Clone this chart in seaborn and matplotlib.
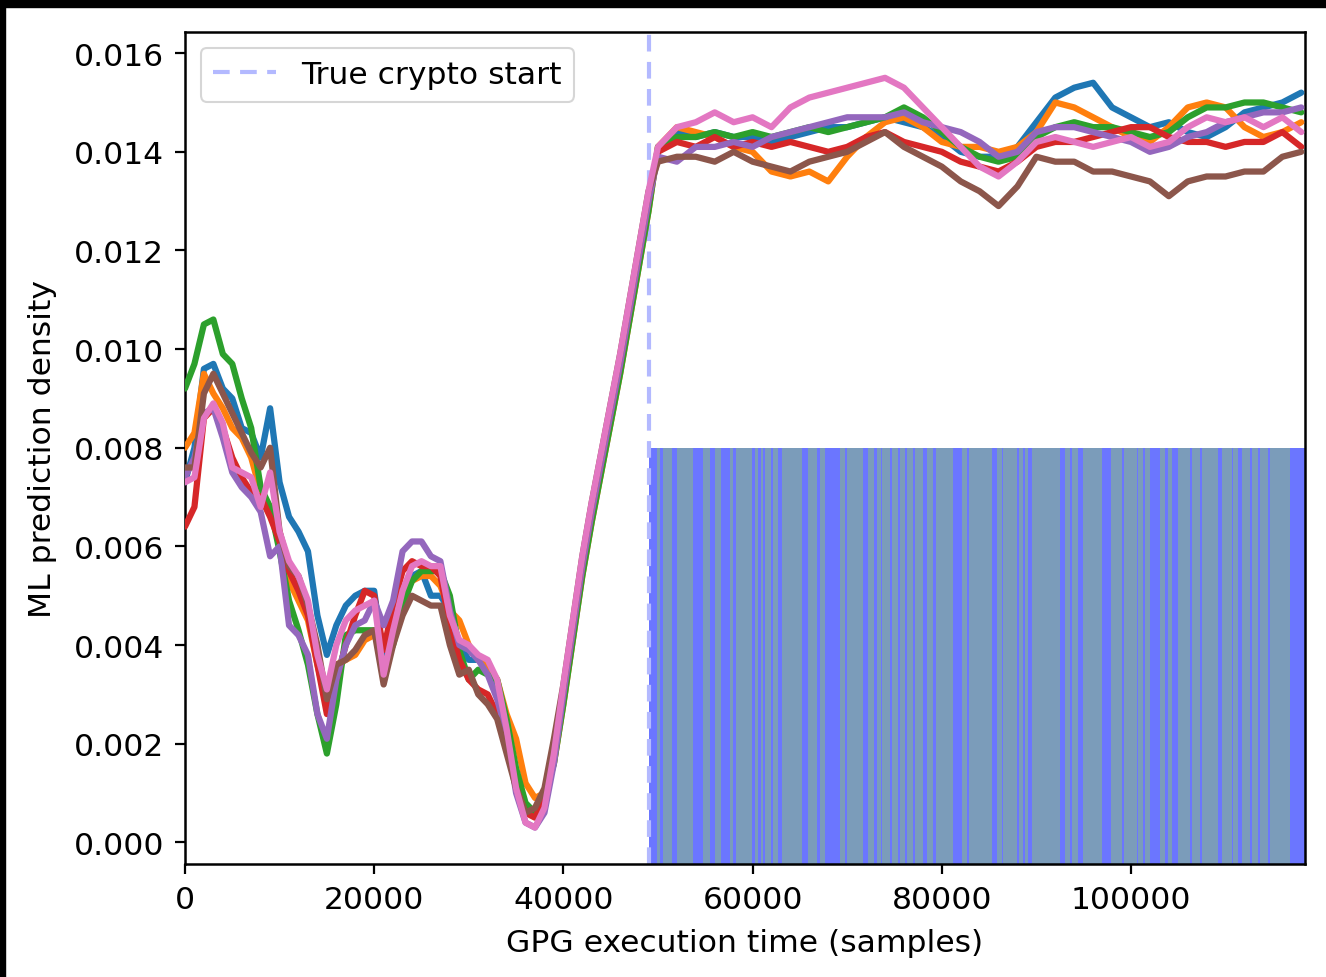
"""
ML prediction density along a GPG execution trace.
"""

import numpy as np
import pandas as pd
import matplotlib
matplotlib.use("Agg")
import matplotlib.pyplot as plt
from matplotlib.patches import Rectangle
import seaborn as sns


crypto_start = 49000
x_end = 118400
y_low = -0.00044
pred_height = 0.008

# sample positions of the density curves
samples = list(range(0, 50000, 1000)) + list(range(50000, 118001, 2000))

run_0 = [
    0.0073, 0.0080, 0.0096, 0.0097, 0.0092, 0.0090, 0.0084, 0.0083, 0.0078, 0.0088,
    0.0073, 0.0066, 0.0063, 0.0059, 0.0046, 0.0038, 0.0044, 0.0048, 0.0050, 0.0051,
    0.0051, 0.0037, 0.0043, 0.0049, 0.0054, 0.0055, 0.0050, 0.0050, 0.0047, 0.0040,
    0.0037, 0.0037, 0.0036, 0.0032, 0.0023, 0.0013, 0.0007, 0.0006, 0.0009, 0.0018,
    0.0030, 0.0043, 0.0056, 0.0067, 0.0077, 0.0087, 0.0097, 0.0108, 0.0119, 0.0130,
    0.0140, 0.0144, 0.0143, 0.0144, 0.0143, 0.0143, 0.0142, 0.0143, 0.0144, 0.0145,
    0.0145, 0.0146, 0.0147, 0.0146, 0.0145, 0.0143, 0.0140, 0.0139, 0.0139, 0.0141,
    0.0146, 0.0151, 0.0153, 0.0154, 0.0149, 0.0147, 0.0145, 0.0146, 0.0144, 0.0143,
    0.0145, 0.0148, 0.0149, 0.0150, 0.0152,
]
run_1 = [
    0.0080, 0.0083, 0.0095, 0.0091, 0.0088, 0.0084, 0.0082, 0.0078, 0.0071, 0.0068,
    0.0063, 0.0053, 0.0049, 0.0045, 0.0036, 0.0028, 0.0036, 0.0037, 0.0038, 0.0041,
    0.0042, 0.0041, 0.0043, 0.0050, 0.0053, 0.0054, 0.0054, 0.0052, 0.0047, 0.0045,
    0.0040, 0.0037, 0.0036, 0.0033, 0.0026, 0.0021, 0.0012, 0.0009, 0.0010, 0.0016,
    0.0028, 0.0041, 0.0054, 0.0065, 0.0075, 0.0085, 0.0095, 0.0106, 0.0117, 0.0128,
    0.0141, 0.0145, 0.0144, 0.0143, 0.0141, 0.0140, 0.0136, 0.0135, 0.0136, 0.0134,
    0.0139, 0.0143, 0.0146, 0.0147, 0.0145, 0.0142, 0.0141, 0.0141, 0.0140, 0.0141,
    0.0144, 0.0150, 0.0149, 0.0147, 0.0145, 0.0143, 0.0142, 0.0145, 0.0149, 0.0150,
    0.0149, 0.0145, 0.0143, 0.0144, 0.0146,
]
run_2 = [
    0.0092, 0.0097, 0.0105, 0.0106, 0.0099, 0.0097, 0.0090, 0.0084, 0.0072, 0.0068,
    0.0059, 0.0049, 0.0043, 0.0036, 0.0026, 0.0018, 0.0028, 0.0042, 0.0043, 0.0043,
    0.0043, 0.0036, 0.0040, 0.0048, 0.0053, 0.0055, 0.0055, 0.0055, 0.0050, 0.0039,
    0.0033, 0.0035, 0.0034, 0.0033, 0.0025, 0.0015, 0.0008, 0.0006, 0.0009, 0.0016,
    0.0028, 0.0041, 0.0054, 0.0065, 0.0075, 0.0085, 0.0095, 0.0106, 0.0117, 0.0128,
    0.0141, 0.0143, 0.0143, 0.0144, 0.0143, 0.0144, 0.0143, 0.0144, 0.0145, 0.0144,
    0.0145, 0.0146, 0.0147, 0.0149, 0.0147, 0.0144, 0.0141, 0.0139, 0.0138, 0.0139,
    0.0143, 0.0145, 0.0146, 0.0145, 0.0145, 0.0144, 0.0143, 0.0144, 0.0147, 0.0149,
    0.0149, 0.0150, 0.0150, 0.0149, 0.0148,
]
run_3 = [
    0.0064, 0.0068, 0.0086, 0.0088, 0.0084, 0.0078, 0.0074, 0.0071, 0.0070, 0.0066,
    0.0061, 0.0055, 0.0051, 0.0046, 0.0036, 0.0026, 0.0033, 0.0040, 0.0046, 0.0051,
    0.0050, 0.0039, 0.0048, 0.0055, 0.0057, 0.0056, 0.0056, 0.0054, 0.0044, 0.0037,
    0.0033, 0.0031, 0.0030, 0.0026, 0.0020, 0.0011, 0.0006, 0.0005, 0.0009, 0.0017,
    0.0030, 0.0043, 0.0056, 0.0067, 0.0077, 0.0087, 0.0097, 0.0108, 0.0119, 0.0130,
    0.0140, 0.0142, 0.0141, 0.0143, 0.0141, 0.0142, 0.0141, 0.0142, 0.0141, 0.0140,
    0.0141, 0.0143, 0.0144, 0.0142, 0.0141, 0.0140, 0.0138, 0.0137, 0.0136, 0.0138,
    0.0141, 0.0142, 0.0142, 0.0143, 0.0144, 0.0145, 0.0145, 0.0143, 0.0142, 0.0142,
    0.0141, 0.0142, 0.0142, 0.0144, 0.0141,
]
run_4 = [
    0.0074, 0.0078, 0.0087, 0.0088, 0.0082, 0.0075, 0.0072, 0.0070, 0.0067, 0.0058,
    0.0060, 0.0044, 0.0042, 0.0038, 0.0026, 0.0021, 0.0033, 0.0040, 0.0044, 0.0045,
    0.0049, 0.0044, 0.0049, 0.0059, 0.0061, 0.0061, 0.0058, 0.0057, 0.0047, 0.0040,
    0.0039, 0.0037, 0.0034, 0.0029, 0.0022, 0.0010, 0.0004, 0.0003, 0.0006, 0.0016,
    0.0030, 0.0043, 0.0056, 0.0067, 0.0077, 0.0087, 0.0097, 0.0108, 0.0119, 0.0130,
    0.0139, 0.0138, 0.0141, 0.0141, 0.0142, 0.0141, 0.0143, 0.0144, 0.0145, 0.0146,
    0.0147, 0.0147, 0.0147, 0.0148, 0.0146, 0.0145, 0.0144, 0.0142, 0.0139, 0.0140,
    0.0144, 0.0145, 0.0145, 0.0144, 0.0143, 0.0142, 0.0140, 0.0141, 0.0143, 0.0144,
    0.0146, 0.0147, 0.0148, 0.0148, 0.0149,
]
run_5 = [
    0.0076, 0.0076, 0.0091, 0.0095, 0.0091, 0.0087, 0.0083, 0.0079, 0.0076, 0.0080,
    0.0063, 0.0056, 0.0054, 0.0048, 0.0040, 0.0029, 0.0036, 0.0037, 0.0039, 0.0042,
    0.0043, 0.0032, 0.0040, 0.0046, 0.0050, 0.0049, 0.0048, 0.0048, 0.0040, 0.0034,
    0.0035, 0.0030, 0.0028, 0.0025, 0.0018, 0.0011, 0.0006, 0.0007, 0.0011, 0.0021,
    0.0032, 0.0045, 0.0058, 0.0069, 0.0079, 0.0089, 0.0099, 0.0110, 0.0121, 0.0132,
    0.0138, 0.0139, 0.0139, 0.0138, 0.0140, 0.0138, 0.0137, 0.0136, 0.0138, 0.0139,
    0.0140, 0.0142, 0.0144, 0.0141, 0.0139, 0.0137, 0.0134, 0.0132, 0.0129, 0.0133,
    0.0139, 0.0138, 0.0138, 0.0136, 0.0136, 0.0135, 0.0134, 0.0131, 0.0134, 0.0135,
    0.0135, 0.0136, 0.0136, 0.0139, 0.0140,
]
run_6 = [
    0.0073, 0.0074, 0.0086, 0.0089, 0.0085, 0.0076, 0.0075, 0.0074, 0.0068, 0.0075,
    0.0063, 0.0057, 0.0054, 0.0049, 0.0038, 0.0031, 0.0040, 0.0045, 0.0047, 0.0048,
    0.0049, 0.0034, 0.0043, 0.0051, 0.0056, 0.0057, 0.0056, 0.0056, 0.0046, 0.0041,
    0.0040, 0.0038, 0.0037, 0.0033, 0.0023, 0.0011, 0.0004, 0.0003, 0.0007, 0.0018,
    0.0032, 0.0045, 0.0058, 0.0069, 0.0079, 0.0089, 0.0099, 0.0110, 0.0121, 0.0132,
    0.0141, 0.0145, 0.0146, 0.0148, 0.0146, 0.0147, 0.0145, 0.0149, 0.0151, 0.0152,
    0.0153, 0.0154, 0.0155, 0.0153, 0.0149, 0.0145, 0.0141, 0.0137, 0.0135, 0.0138,
    0.0142, 0.0143, 0.0142, 0.0141, 0.0142, 0.0143, 0.0141, 0.0142, 0.0145, 0.0147,
    0.0146, 0.0147, 0.0145, 0.0147, 0.0144,
]
runs = [run_0, run_1, run_2, run_3, run_4, run_5, run_6]

# predicted crypto samples (blue bands) on top of the grey-blue region
band_start = [
    49000, 50260, 51430, 53650, 55450, 56610, 57880, 59890, 60530, 61060,
    61900, 62650, 65190, 66780, 67620, 69740, 71640, 72800, 73540, 74500,
    75340, 76080, 76930, 77990, 79050, 81160, 82650, 85290, 86350, 87940,
    88570, 89100, 92490, 93540, 94390, 96930, 99050, 100630, 101270, 102010,
    103600, 104340, 106240, 107300, 109210, 110690, 111320, 112590, 113440, 114500,
    116830,
]
band_width = [
    850, 220, 630, 1060, 530, 960, 320, 320, 320, 210,
    220, 420, 630, 310, 1590, 210, 530, 320, 110, 210,
    220, 220, 210, 420, 320, 960, 210, 530, 110, 210,
    210, 420, 530, 220, 530, 950, 210, 110, 210, 1060,
    310, 630, 220, 210, 420, 100, 430, 210, 210, 210,
    1570,
]

rows = []
for i, r in enumerate(runs):
    for s, v in zip(samples, r):
        rows.append({"sample": s, "density": v, "run": i})
df = pd.DataFrame(rows)

sns.set_style("ticks")
plt.rcParams["font.family"] = ["DejaVu Sans"]
plt.rcParams["font.size"] = 22.6
for key in ["text.color", "axes.labelcolor", "xtick.color", "ytick.color"]:
    plt.rcParams[key] = "black"

fig = plt.figure(figsize=(13.26, 9.78), dpi=100)
fig.patch.set_facecolor("white")
ax = fig.add_axes([0.1395, 0.1155, 0.8447, 0.8508])

# predictions region, from the bottom of the axes up to 0.008
ax.fill_between([crypto_start, x_end], y_low, pred_height, color="#7b9cba",
                linewidth=0, zorder=1)
ax.bar(band_start, pred_height - y_low, bottom=y_low, width=band_width, align="edge",
       color="#6b76ff", linewidth=0, zorder=1)

sns.lineplot(data=df, x="sample", y="density", hue="run",
             palette=sns.color_palette("tab10")[:7], legend=False,
             ax=ax, zorder=3)
for ln in ax.lines:
    ln.set_linewidth(4.5)
    ln.set_solid_joinstyle("round")

ax.axvline(crypto_start, color="#b3b9ff", linestyle="--", linewidth=3,
           dashes=(4, 2.5), label="True crypto start", zorder=2)

ax.set_xlim(0, x_end)
ax.set_ylim(y_low, 0.01643)
ax.set_yticks(np.arange(0, 0.0161, 0.002))
ax.set_xticks([0, 20000, 40000, 60000, 80000, 100000])
ax.set_xlabel("GPG execution time (samples)", fontsize=22.6, labelpad=10)
ax.set_ylabel("ML prediction density", fontsize=22.6, labelpad=12)
ax.tick_params(labelsize=22.6, length=7, width=1.6, color="black", pad=8)
for sp in ax.spines.values():
    sp.set_linewidth(1.8)
    sp.set_color("black")

leg = ax.legend(loc="upper left", fontsize=22.6, frameon=True, fancybox=True,
                handlelength=2.0, borderpad=0.4)
leg.get_frame().set_edgecolor("#cccccc")
leg.get_frame().set_linewidth(1.5)

# dark edge of the screenshot
fig.patches.append(Rectangle((0, 1 - 8 / 978), 1, 8 / 978, transform=fig.transFigure,
                             color="black", zorder=10))
fig.patches.append(Rectangle((0, 0), 5 / 1326, 1, transform=fig.transFigure,
                             color="black", zorder=10))

fig.savefig("out.png", dpi=100, facecolor="white")
